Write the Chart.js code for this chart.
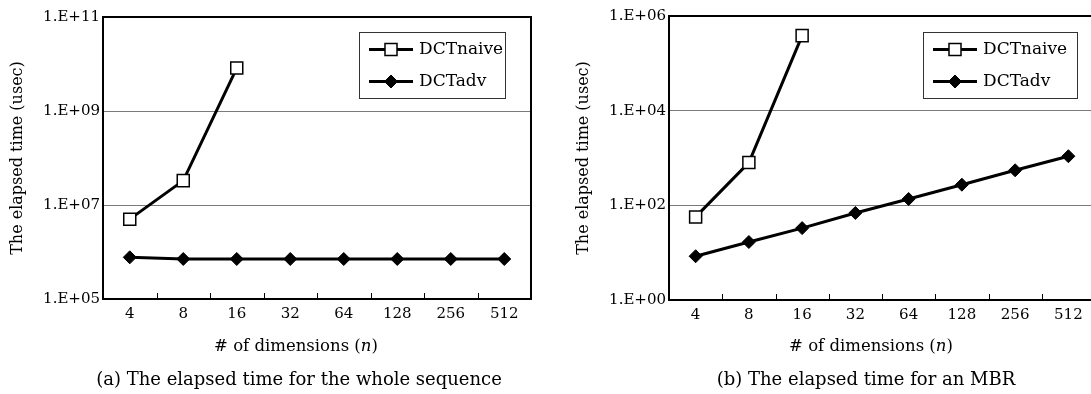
<!DOCTYPE html>
<html>
<head>
<meta charset="utf-8">
<script src="https://cdn.jsdelivr.net/npm/chart.js@4.4.1/dist/chart.umd.min.js"></script>
<style>
  html, body { margin: 0; padding: 0; background: #fff; overflow: hidden; width: 1091px; height: 394px; }
  .box { position: absolute; top: 0; }
  .lbl { position: absolute; font-family: "DejaVu Serif", serif; color: #000; white-space: nowrap; transform: translate(-50%, -50%); }
</style>
</head>
<body>
<div class="box" style="left:0px"><canvas id="chartWhole" width="545" height="394"></canvas></div>
<div class="box" style="left:545px"><canvas id="chartMBR" width="560" height="394"></canvas></div>
<div class="lbl" style="left:296px;top:345px;font-size:16.5px"># of dimensions (<i>n</i>)</div>
<div class="lbl" style="left:871px;top:345px;font-size:16.5px"># of dimensions (<i>n</i>)</div>
<div class="lbl" style="left:299px;top:378px;font-size:18px">(a) The elapsed time for the whole sequence</div>
<div class="lbl" style="left:866px;top:378px;font-size:18px">(b) The elapsed time for an MBR</div>
<script>
const dims = ['4', '8', '16', '32', '64', '128', '256', '512'];
const seriesNames = ['DCTnaive', 'DCTadv'];

// (a) whole sequence
const naiveWhole = [5.0e6, 3.3e7, 8.2e9];
const advWhole = [7.7e5, 7.1e5, 7.1e5, 7.1e5, 7.1e5, 7.1e5, 7.1e5, 7.1e5];
const yTicksWhole = [1e5, 1e7, 1e9, 1e11];
const yLabelsWhole = ['1.E+05', '1.E+07', '1.E+09', '1.E+11'];

// (b) an MBR
const naiveMBR = [57, 800, 3.85e5];
const advMBR = [8.4, 16.8, 33, 69, 136, 273, 550, 1090];
const yTicksMBR = [1, 1e2, 1e4, 1e6];
const yLabelsMBR = ['1.E+00', '1.E+02', '1.E+04', '1.E+06'];

const FONT = "'DejaVu Serif', serif";

function drawMarker(ctx, style, r, x, y, fill, bw) {
    ctx.beginPath();
    if (style === 'rect') {
        const s = r * Math.SQRT1_2;
        ctx.rect(x - s, y - s, 2 * s, 2 * s);
    } else {
        ctx.moveTo(x - r, y);
        ctx.lineTo(x, y - r);
        ctx.lineTo(x + r, y);
        ctx.lineTo(x, y + r);
        ctx.closePath();
    }
    ctx.fillStyle = fill;
    ctx.fill();
    ctx.lineWidth = bw;
    ctx.strokeStyle = '#000';
    ctx.stroke();
}

// box around the plot, inward ticks between categories, and the boxed legend
const framePlugin = {
    id: 'frame',
    beforeDatasetsDraw(chart) {
        const { ctx, chartArea: a, scales: { x } } = chart;
        ctx.save();
        ctx.strokeStyle = '#000';
        ctx.lineWidth = 2;
        ctx.strokeRect(a.left, a.top, a.right - a.left, a.bottom - a.top);
        ctx.lineWidth = 1;
        for (let i = 1; i < x.ticks.length; i++) {
            const px = Math.round((x.getPixelForTick(i - 1) + x.getPixelForTick(i)) / 2) + 0.5;
            ctx.beginPath();
            ctx.moveTo(px, a.bottom);
            ctx.lineTo(px, a.bottom - 6);
            ctx.stroke();
        }
        ctx.restore();
    },
    afterDraw(chart, args, opts) {
        const { ctx } = chart;
        const lg = opts.legend;
        ctx.save();
        ctx.fillStyle = '#fff';
        ctx.fillRect(lg.x, lg.y, lg.w, lg.h);
        ctx.strokeStyle = '#333';
        ctx.lineWidth = 1;
        ctx.strokeRect(lg.x + 0.5, lg.y + 0.5, lg.w, lg.h);
        chart.data.datasets.forEach((ds, i) => {
            const cy = lg.y + 17.5 + i * 32;
            const x0 = lg.x + 10, x1 = x0 + 44;
            ctx.beginPath();
            ctx.moveTo(x0, cy);
            ctx.lineTo(x1, cy);
            ctx.lineWidth = ds.borderWidth;
            ctx.strokeStyle = ds.borderColor;
            ctx.stroke();
            drawMarker(ctx, ds.pointStyle, ds.pointRadius, (x0 + x1) / 2, cy, ds.pointBackgroundColor, ds.pointBorderWidth);
            ctx.fillStyle = '#000';
            ctx.font = '17px ' + FONT;
            ctx.textBaseline = 'middle';
            ctx.textAlign = 'left';
            ctx.fillText(ds.label, x1 + 6, cy);
        });
        ctx.restore();
    }
};

function makeChart(id, naive, adv, yTicks, yLabels, box) {
    const ctx = document.getElementById(id).getContext('2d');
    return new Chart(ctx, {
        type: 'line',
        data: {
            labels: dims,
            datasets: [{
                label: seriesNames[0],
                data: naive,
                borderColor: '#000',
                borderWidth: 3,
                tension: 0,
                fill: false,
                pointStyle: 'rect',
                pointRadius: 8.5,
                pointHoverRadius: 8.5,
                pointBackgroundColor: '#fff',
                pointBorderColor: '#000',
                pointBorderWidth: 1.5
            }, {
                label: seriesNames[1],
                data: adv,
                borderColor: '#000',
                borderWidth: 3,
                tension: 0,
                fill: false,
                pointStyle: 'rectRot',
                pointRadius: 6.5,
                pointHoverRadius: 6.5,
                pointBackgroundColor: '#000',
                pointBorderColor: '#000',
                pointBorderWidth: 1
            }]
        },
        options: {
            responsive: false,
            animation: false,
            layout: { padding: { left: 0, top: box.top, right: box.right, bottom: 0 } },
            scales: {
                x: {
                    type: 'category',
                    offset: true,
                    grid: { display: false, drawTicks: false },
                    border: { display: false },
                    ticks: { color: '#000', font: { family: FONT, size: 15 }, padding: 6, maxRotation: 0, autoSkip: false },
                    afterFit: s => { s.height = box.xh; }
                },
                y: {
                    type: 'logarithmic',
                    min: yTicks[0],
                    max: yTicks[yTicks.length - 1],
                    afterBuildTicks: s => { s.ticks = yTicks.map(v => ({ value: v })); },
                    grid: {
                        drawTicks: false,
                        color: c => (c.tick && (c.tick.value === yTicks[0] || c.tick.value === yTicks[yTicks.length - 1])) ? 'rgba(0,0,0,0)' : '#7a7a7a',
                        lineWidth: 1
                    },
                    border: { display: false },
                    ticks: {
                        color: '#000',
                        font: { family: FONT, size: 15 },
                        padding: 3,
                        callback: v => yLabels[yTicks.indexOf(v)]
                    },
                    title: {
                        display: true,
                        text: 'The elapsed time (usec)',
                        color: '#000',
                        font: { family: FONT, size: 16 },
                        padding: { top: box.titlePad, bottom: 0 }
                    },
                    afterFit: s => { s.width = box.yw; }
                }
            },
            plugins: {
                legend: { display: false },
                title: { display: false },
                tooltip: { enabled: false },
                frame: { legend: box.legend }
            }
        },
        plugins: [framePlugin]
    });
}

makeChart('chartWhole', naiveWhole, advWhole, yTicksWhole, yLabelsWhole,
    { top: 17, right: 14, xh: 95, yw: 103, titlePad: 8, legend: { x: 359, y: 32, w: 146, h: 66 } });
makeChart('chartMBR', naiveMBR, advMBR, yTicksMBR, yLabelsMBR,
    { top: 16, right: 8, xh: 94, yw: 124, titlePad: 29, legend: { x: 378, y: 32, w: 154, h: 66 } });
</script>
</body>
</html>
